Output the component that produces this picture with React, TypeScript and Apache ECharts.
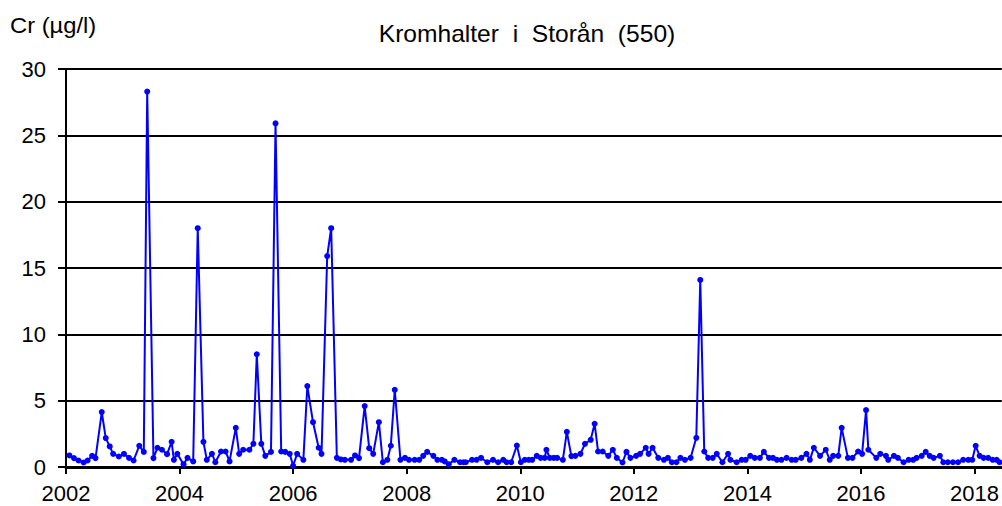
import React, { useEffect, useRef } from "react";
import * as echarts from "echarts";

const titleText = "Kromhalter  i  Storån  (550)";
const yAxisTitle = "Cr (µg/l)";
const yTicks = [0, 5, 10, 15, 20, 25, 30];
const xTickYears = [2002, 2004, 2006, 2008, 2010, 2012, 2014, 2016, 2018];

// Sampling dates as decimal years
const dates = [
  2002.06, 2002.14, 2002.22, 2002.31, 2002.38, 2002.46, 2002.52, 2002.63, 2002.70, 2002.77,
  2002.83, 2002.93, 2003.02, 2003.11, 2003.19, 2003.29, 2003.37, 2003.43, 2003.54, 2003.61,
  2003.69, 2003.78, 2003.86, 2003.90, 2003.96, 2004.07, 2004.14, 2004.24, 2004.32, 2004.42,
  2004.48, 2004.57, 2004.63, 2004.73, 2004.81, 2004.88, 2004.99, 2005.05, 2005.12, 2005.23,
  2005.30, 2005.36, 2005.44, 2005.51, 2005.61, 2005.69, 2005.79, 2005.86, 2005.94, 2006.00,
  2006.07, 2006.18, 2006.25, 2006.35, 2006.45, 2006.50, 2006.60, 2006.67, 2006.77, 2006.84,
  2006.91, 2007.02, 2007.09, 2007.16, 2007.26, 2007.34, 2007.41, 2007.51, 2007.58, 2007.66,
  2007.72, 2007.79, 2007.89, 2007.97, 2008.04, 2008.14, 2008.22, 2008.29, 2008.36, 2008.47,
  2008.54, 2008.62, 2008.67, 2008.74, 2008.84, 2008.94, 2009.00, 2009.04, 2009.15, 2009.23,
  2009.31, 2009.42, 2009.52, 2009.61, 2009.70, 2009.76, 2009.84, 2009.94, 2010.01, 2010.08,
  2010.15, 2010.21, 2010.29, 2010.36, 2010.43, 2010.46, 2010.52, 2010.59, 2010.65, 2010.75,
  2010.82, 2010.90, 2010.97, 2011.06, 2011.14, 2011.24, 2011.31, 2011.37, 2011.45, 2011.55,
  2011.63, 2011.70, 2011.80, 2011.87, 2011.94, 2012.04, 2012.11, 2012.21, 2012.26, 2012.33,
  2012.43, 2012.53, 2012.60, 2012.67, 2012.75, 2012.82, 2012.90, 2013.00, 2013.10, 2013.17,
  2013.24, 2013.31, 2013.39, 2013.46, 2013.56, 2013.66, 2013.70, 2013.81, 2013.90, 2013.97,
  2014.05, 2014.13, 2014.22, 2014.29, 2014.38, 2014.45, 2014.52, 2014.60, 2014.69, 2014.78,
  2014.85, 2014.95, 2015.04, 2015.10, 2015.17, 2015.28, 2015.38, 2015.45, 2015.51, 2015.60,
  2015.66, 2015.77, 2015.85, 2015.95, 2016.02, 2016.09, 2016.13, 2016.27, 2016.34, 2016.44,
  2016.48, 2016.58, 2016.65, 2016.75, 2016.84, 2016.92, 2016.98, 2017.07, 2017.14, 2017.21,
  2017.28, 2017.39, 2017.45, 2017.53, 2017.62, 2017.71, 2017.80, 2017.89, 2017.96, 2018.02,
  2018.09, 2018.16, 2018.24, 2018.32, 2018.39, 2018.44,
];

// Chromium concentration (µg/l)
const crValues = [
  0.87, 0.67, 0.49, 0.34, 0.49, 0.84, 0.67, 4.14, 2.18, 1.55,
  0.99, 0.79, 0.99, 0.69, 0.49, 1.6, 1.14, 28.3, 0.67, 1.45,
  1.3, 0.97, 1.9, 0.54, 0.99, 0.21, 0.69, 0.42, 18.0, 1.9,
  0.54, 0.99, 0.36, 1.17, 1.17, 0.42, 2.95, 0.99, 1.3, 1.3,
  1.75, 8.5, 1.75, 0.84, 1.14, 25.9, 1.17, 1.14, 0.99, 0.09,
  0.99, 0.54, 6.1, 3.38, 1.45, 0.99, 15.9, 18.0, 0.69, 0.57,
  0.54, 0.54, 0.87, 0.67, 4.59, 1.42, 0.99, 3.38, 0.36, 0.54,
  1.6, 5.82, 0.54, 0.69, 0.54, 0.54, 0.54, 0.84, 1.14, 0.84,
  0.54, 0.54, 0.42, 0.21, 0.54, 0.36, 0.36, 0.36, 0.54, 0.54,
  0.69, 0.36, 0.54, 0.36, 0.54, 0.36, 0.36, 1.62, 0.36, 0.54,
  0.54, 0.54, 0.84, 0.69, 0.69, 1.3, 0.69, 0.69, 0.69, 0.54,
  2.65, 0.82, 0.84, 0.99, 1.75, 2.05, 3.26, 1.17, 1.17, 0.84,
  1.3, 0.69, 0.34, 1.14, 0.69, 0.84, 0.99, 1.45, 0.99, 1.45,
  0.69, 0.54, 0.69, 0.36, 0.36, 0.69, 0.54, 0.69, 2.2, 14.1,
  1.17, 0.69, 0.69, 0.99, 0.36, 0.99, 0.54, 0.36, 0.54, 0.54,
  0.84, 0.69, 0.69, 1.14, 0.69, 0.69, 0.54, 0.54, 0.69, 0.54,
  0.54, 0.69, 0.99, 0.54, 1.45, 0.84, 1.3, 0.54, 0.84, 0.84,
  2.95, 0.69, 0.69, 1.17, 0.99, 4.29, 1.3, 0.69, 0.99, 0.84,
  0.54, 0.84, 0.69, 0.36, 0.54, 0.54, 0.69, 0.84, 1.14, 0.84,
  0.69, 0.84, 0.36, 0.36, 0.36, 0.36, 0.54, 0.54, 0.54, 1.6,
  0.84, 0.69, 0.69, 0.54, 0.54, 0.36,
];

const FONT = "'Liberation Sans', Arial, sans-serif";

export default function App() {
  const ref = useRef<HTMLDivElement>(null);

  useEffect(() => {
    if (!ref.current) return;
    const chart = echarts.init(ref.current, undefined, { renderer: "svg" });
    const seriesData = dates.map((d, i) => [d, crValues[i]]);
    chart.setOption({
      animation: false,
      backgroundColor: "#ffffff",
      textStyle: { fontFamily: FONT },
      graphic: [
        {
          type: "text",
          x: 527,
          y: 34,
          scaleX: 1.07,
          style: {
            text: titleText,
            font: `23px ${FONT}`,
            fill: "#000",
            textAlign: "center",
            textVerticalAlign: "middle",
          },
        },
        {
          type: "text",
          x: 10,
          y: 25,
          scaleX: 1.08,
          style: {
            text: yAxisTitle,
            font: `22px ${FONT}`,
            fill: "#000",
            textAlign: "left",
            textVerticalAlign: "middle",
          },
        },
      ],
      grid: { left: 66, right: 0, top: 69, bottom: 39, containLabel: false },
      xAxis: {
        type: "value",
        min: xTickYears[0],
        max: 2018.48,
        interval: 2,
        axisLine: { show: true, lineStyle: { color: "#000", width: 3 } },
        axisTick: { show: true, length: 7, lineStyle: { color: "#000", width: 2 } },
        splitLine: { show: false },
        axisLabel: {
          margin: 15,
          fontSize: 22,
          fontFamily: FONT,
          color: "#000",
          showMaxLabel: false,
          formatter: (v: number) =>
            xTickYears.includes(Math.round(v)) && Math.abs(v - Math.round(v)) < 1e-6 ? String(Math.round(v)) : "",
        },
      },
      yAxis: {
        type: "value",
        min: yTicks[0],
        max: yTicks[yTicks.length - 1],
        interval: 5,
        axisLine: { show: true, lineStyle: { color: "#000", width: 2 } },
        axisTick: { show: true, length: 8, lineStyle: { color: "#000", width: 2 } },
        splitLine: { show: true, lineStyle: { color: "#000", width: 2 } },
        axisLabel: { margin: 20, fontSize: 22, fontFamily: FONT, color: "#000" },
      },
      series: [
        {
          type: "line",
          data: seriesData,
          symbol: "circle",
          symbolSize: 6,
          showSymbol: true,
          lineStyle: { color: "#0000ff", width: 2 },
          itemStyle: { color: "#0000ff" },
          clip: true,
        },
      ],
    });
    return () => chart.dispose();
  }, []);

  return (
    <div
      ref={ref}
      style={{ position: "absolute", left: 0, top: 0, width: 1002, height: 506 }}
    />
  );
}
